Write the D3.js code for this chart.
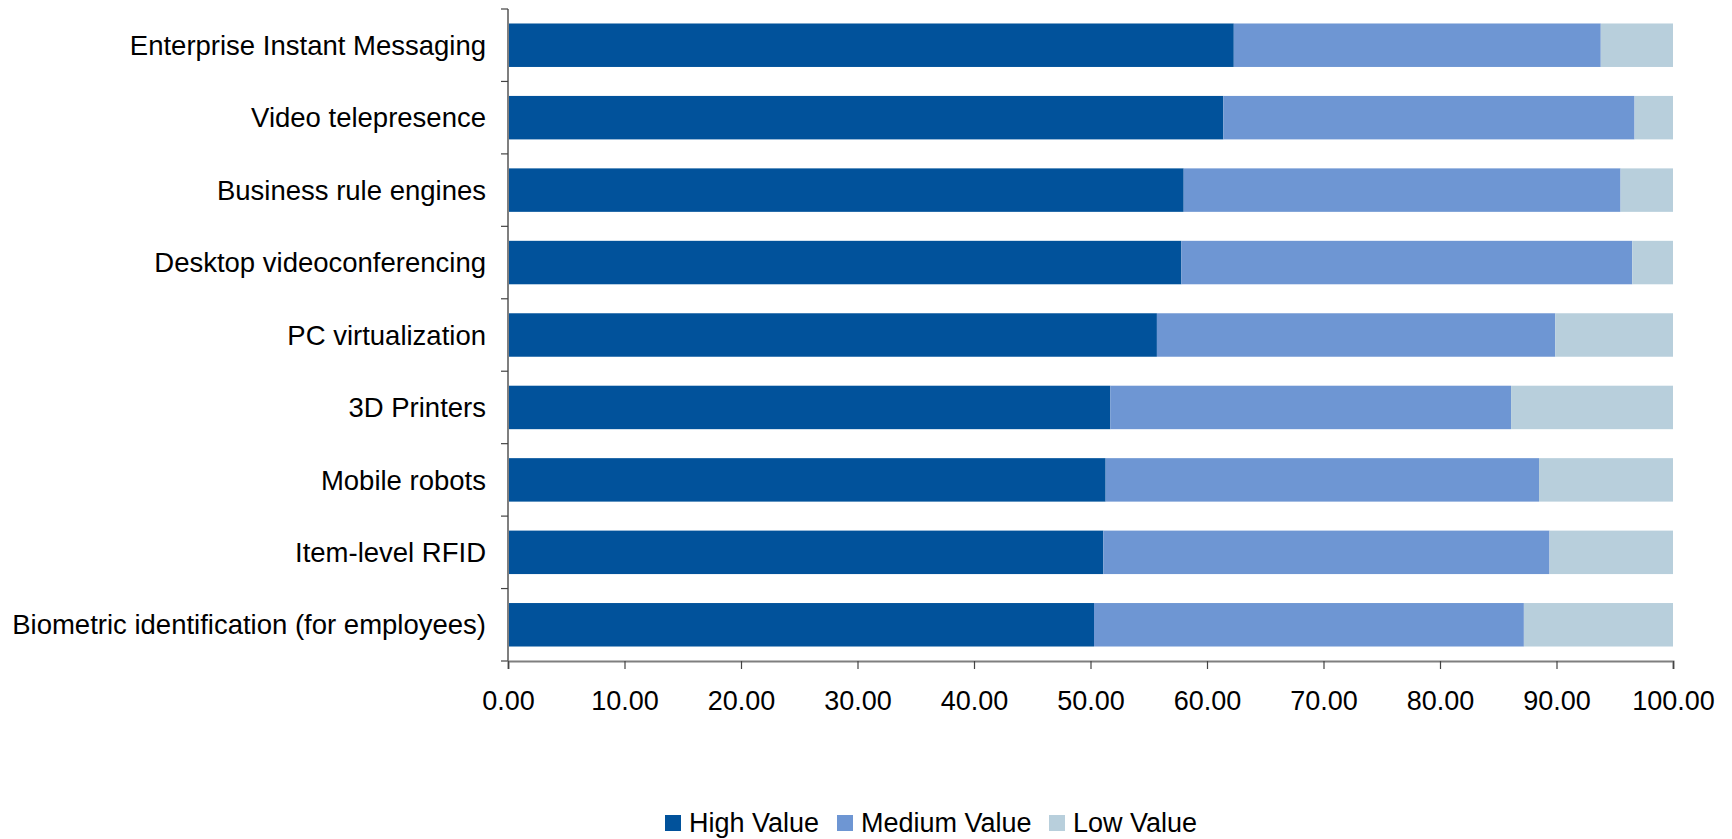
<!DOCTYPE html>
<html>
<head>
<meta charset="utf-8">
<script src="https://cdn.jsdelivr.net/npm/d3@7"></script>
<style>
  html, body { margin: 0; padding: 0; background: #fff; }
  svg { display: block; }
  text { font-family: "Liberation Sans", Arial, sans-serif; fill: #000; }
</style>
</head>
<body>
<svg id="chart" width="1732" height="839"></svg>
<script>
// Technologies, listed top to bottom
const categories = [
  "Enterprise Instant Messaging",
  "Video telepresence",
  "Business rule engines",
  "Desktop videoconferencing",
  "PC virtualization",
  "3D Printers",
  "Mobile robots",
  "Item-level RFID",
  "Biometric identification (for employees)"
];

// Share of respondents per rating (percent)
const highValue   = [62.3, 61.4, 58.0, 57.8, 55.7, 51.7, 51.3, 51.1, 50.3];
const mediumValue = [31.5, 35.3, 37.5, 38.7, 34.2, 34.4, 37.2, 38.3, 36.9];
const lowValue    = [ 6.2,  3.3,  4.5,  3.5, 10.1, 13.9, 11.5, 10.6, 12.8];

const seriesNames = ["High Value", "Medium Value", "Low Value"];
const seriesColors = ["#01529B", "#6E96D3", "#B8CFDC"];
const xTicks = [0, 10, 20, 30, 40, 50, 60, 70, 80, 90, 100];

const rows = categories.map((c, i) => ({
  category: c,
  "High Value": highValue[i],
  "Medium Value": mediumValue[i],
  "Low Value": lowValue[i]
}));

const svg = d3.select("#chart");
const plotLeft = 508, plotRight = 1673, plotTop = 9, plotBottom = 661;
const fontSize = "27px";

const x = d3.scaleLinear().domain([0, 100]).range([plotLeft, plotRight]);
const y = d3.scaleBand().domain(categories).range([plotTop, plotBottom])
  .paddingInner(0.4).paddingOuter(0.2);

const stack = d3.stack().keys(seriesNames);
const layers = stack(rows);
const color = d3.scaleOrdinal().domain(seriesNames).range(seriesColors);

// Stacked bars
svg.append("g").selectAll("g")
  .data(layers)
  .join("g")
  .attr("fill", d => color(d.key))
  .selectAll("rect")
  .data(d => d)
  .join("rect")
  .attr("x", d => x(d[0]))
  .attr("width", d => x(d[1]) - x(d[0]))
  .attr("y", d => y(d.data.category))
  .attr("height", y.bandwidth());

const axisColor = "#7f7f7f";

// Category axis: line with ticks at band boundaries
const yAxis = svg.append("g");
yAxis.append("line")
  .attr("x1", plotLeft).attr("x2", plotLeft)
  .attr("y1", plotTop).attr("y2", plotBottom)
  .attr("stroke", axisColor).attr("stroke-width", 2);
const step = (plotBottom - plotTop) / categories.length;
d3.range(categories.length + 1).forEach(i => {
  yAxis.append("line")
    .attr("x1", plotLeft - 7).attr("x2", plotLeft)
    .attr("y1", plotTop + i * step).attr("y2", plotTop + i * step)
    .attr("stroke", "#444").attr("stroke-width", 1.2);
});
yAxis.selectAll("text.cat")
  .data(categories)
  .join("text")
  .attr("class", "cat")
  .attr("x", plotLeft - 22)
  .attr("y", d => y(d) + y.bandwidth() / 2)
  .attr("dy", "0.35em")
  .attr("text-anchor", "end")
  .style("font-size", "27.5px")
  .text(d => d);

// Value axis
const xAxis = svg.append("g").attr("transform", `translate(0,${plotBottom})`)
  .call(d3.axisBottom(x).tickValues(xTicks).tickFormat(d3.format(".2f"))
    .tickSize(8).tickPadding(22));
xAxis.select(".domain").attr("stroke", axisColor).attr("stroke-width", 2);
xAxis.selectAll(".tick line").attr("stroke", "#444").attr("stroke-width", 1.2);
xAxis.selectAll(".tick text")
  .style("font-size", fontSize)
  .style("font-family", "'Liberation Sans', Arial, sans-serif")
  .attr("fill", "#000");

// Legend
const legendItems = [
  { name: "High Value", x: 665 },
  { name: "Medium Value", x: 837 },
  { name: "Low Value", x: 1049 }
];
const legend = svg.append("g");
legendItems.forEach(item => {
  legend.append("rect")
    .attr("x", item.x).attr("y", 815)
    .attr("width", 16).attr("height", 16)
    .attr("fill", color(item.name));
  legend.append("text")
    .attr("x", item.x + 24).attr("y", 823)
    .attr("dy", "0.35em")
    .style("font-size", fontSize)
    .text(item.name);
});
</script>
</body>
</html>
